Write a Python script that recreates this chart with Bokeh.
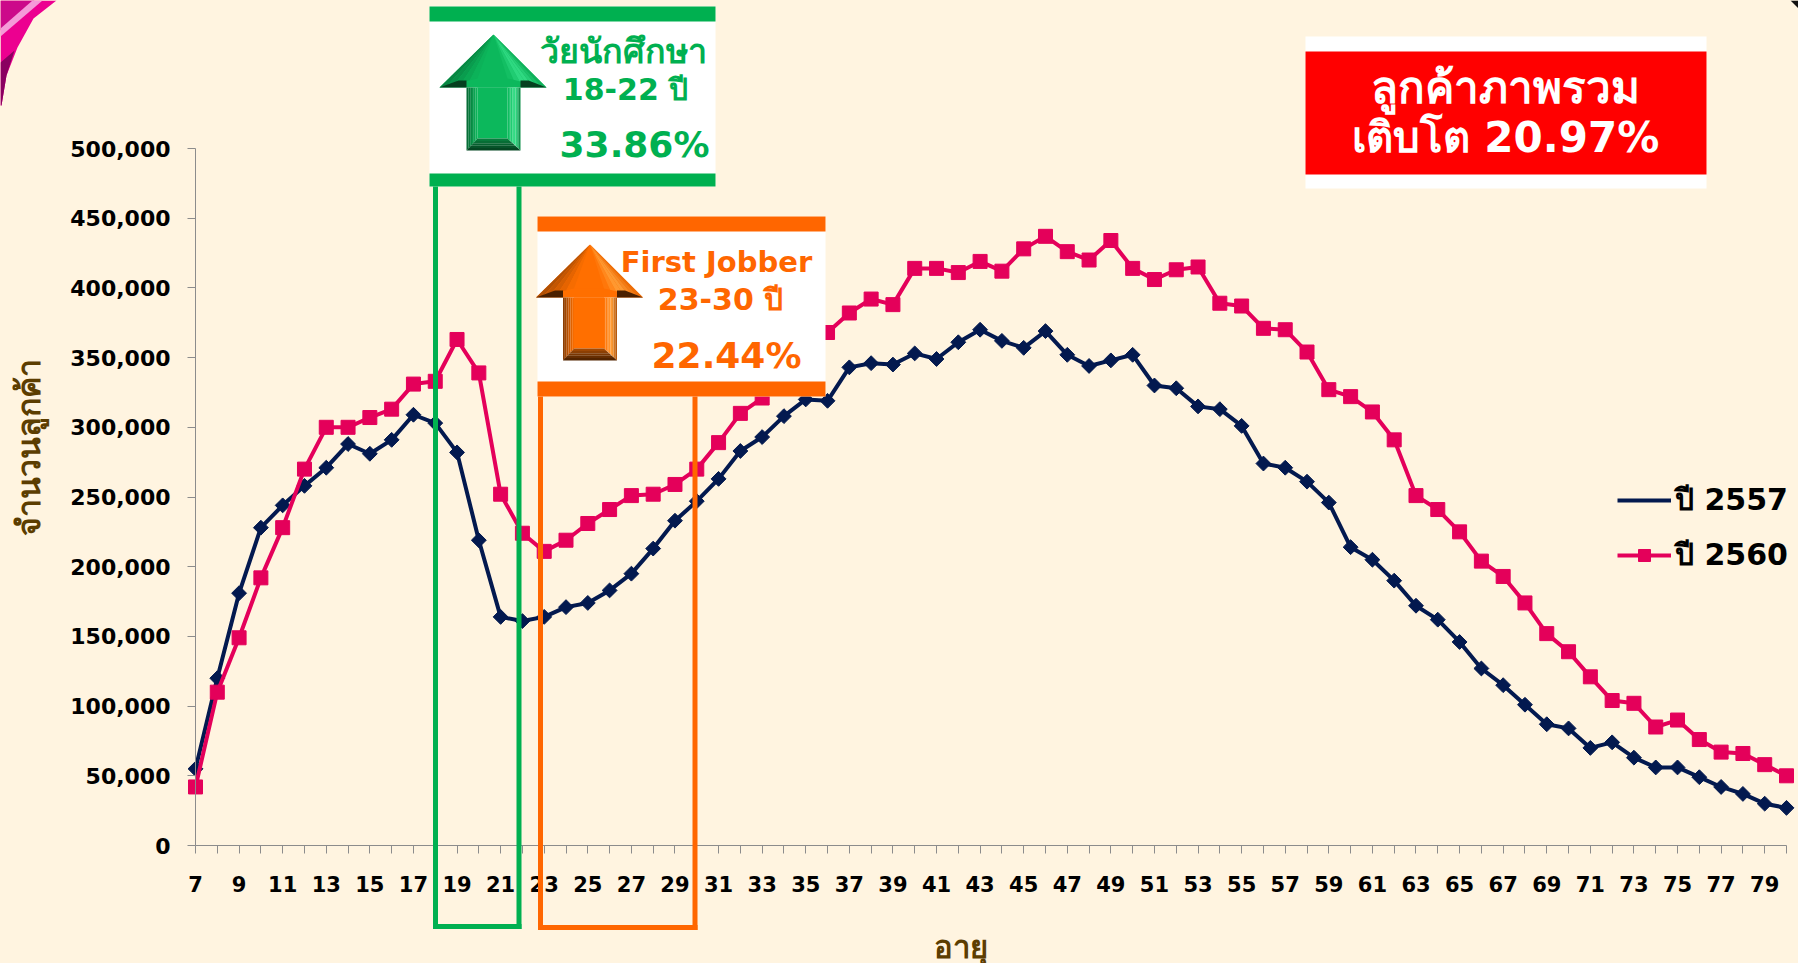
from math import pi
from bokeh.plotting import figure
from bokeh.embed import file_html
from bokeh.resources import INLINE
from bokeh.models import (Range1d, FixedTicker, Legend, LegendItem, Label, BoxAnnotation,
                          PolyAnnotation, NumeralTickFormatter)

ages = list(range(7, 81))
year_2557 = [55000,120000,181000,228000,244000,258000,271000,288000,281000,291000,309000,303000,282000,219000,
             164000,161000,164000,171000,174000,183000,195000,213000,233000,247000,263000,283000,293000,308000,
             320000,319000,343000,346000,345000,353000,349000,361000,370000,362000,357000,369000,352000,344000,
             348000,352000,330000,328000,315000,313000,301000,274000,271000,261000,246000,214000,205000,190000,
             172000,162000,146000,127000,115000,101000,87000,84000,70000,74000,63000,56000,56000,49000,42000,
             37000,30000,27000]
year_2560 = [42000,110000,149000,192000,228000,270000,300000,300000,307000,313000,331000,333000,363000,339000,
             252000,224000,211000,219000,231000,241000,251000,252000,259000,270000,289000,310000,321000,340000,
             355000,368000,382000,392000,388000,414000,414000,411000,419000,412000,428000,437000,426000,420000,
             434000,414000,406000,413000,415000,389000,387000,371000,370000,354000,327000,322000,311000,291000,
             251000,241000,225000,204000,193000,174000,152000,139000,121000,104000,102000,85000,90000,76000,67000,
             66000,58000,50000]
series_names = ["ปี 2557", "ปี 2560"]
y_ticks = [0,50000,100000,150000,200000,250000,300000,350000,400000,450000,500000]
x_label = "อายุ"
y_label = "จำนวนลูกค้า"

W, H = 1798, 963
L, R, T, B = 195, 1786, 148, 845
ux = (R - L) / 73
uy = (B - T) / 500000
BG = "#FFF4E0"; NAVY = "#03194F"; PINK = "#E4005A"; GREEN = "#00B050"; ORANGE = "#FF6600"; BROWN = "#5C3D00"
FONT = "DejaVu Sans"

p = figure(width=W, height=H,
           x_range=Range1d(7 - L/ux, 80 + (W-R)/ux), y_range=Range1d(-(H-B)/uy, 500000 + T/uy),
           output_backend="svg", toolbar_location=None,
           min_border_left=0, min_border_right=0, min_border_top=0, min_border_bottom=0,
           background_fill_color=BG, border_fill_color=BG, outline_line_color=None)
p.grid.visible = False

xa = p.xaxis[0]
xa.fixed_location = 0
xa.ticker = FixedTicker(ticks=ages)
xa.bounds = (7, 80)
xa.major_label_overrides = {a: (str(a) if a % 2 else "") for a in ages}
xa.major_label_text_font = FONT; xa.major_label_text_font_style = "bold"; xa.major_label_text_font_size = "21px"
xa.major_label_text_color = "#000000"; xa.major_label_standoff = 22
xa.major_tick_out = 8; xa.major_tick_in = 0; xa.minor_tick_line_color = None
xa.axis_line_color = "#8C8C8C"; xa.major_tick_line_color = "#8C8C8C"; xa.axis_line_width = 1

ya = p.yaxis[0]
ya.fixed_location = 7
ya.bounds = (0, 500000)
ya.ticker = FixedTicker(ticks=y_ticks)
ya.formatter = NumeralTickFormatter(format="0,0")
ya.major_label_text_font = FONT; ya.major_label_text_font_style = "bold"; ya.major_label_text_font_size = "22px"
ya.major_label_text_color = "#000000"; ya.major_label_standoff = 17
ya.major_tick_out = 8; ya.major_tick_in = 0; ya.minor_tick_line_color = None
ya.axis_line_color = "#8C8C8C"; ya.major_tick_line_color = "#8C8C8C"

l1 = p.line(ages, year_2557, line_color=NAVY, line_width=4)
m1 = p.scatter(ages, year_2557, marker="square", angle=pi/4, size=10.5, fill_color=NAVY, line_color=NAVY, line_width=1)
l2 = p.line(ages, year_2560, line_color=PINK, line_width=4)
m2 = p.scatter(ages, year_2560, marker="square", size=14, fill_color=PINK, line_color=PINK, line_width=1)
legend_diamond = p.scatter([], [], marker="diamond", size=19, fill_color=NAVY, line_color=NAVY, line_width=1)

leg = Legend(items=[LegendItem(label=series_names[0], renderers=[l1, legend_diamond]),
                    LegendItem(label=series_names[1], renderers=[l2, m2])],
             location=(1617, 385), background_fill_alpha=0, border_line_color=None,
             label_text_font=FONT, label_text_font_style="bold", label_text_font_size="30px",
             label_text_color="#000000", glyph_width=54, glyph_height=30, spacing=8, padding=0, margin=0,
             label_standoff=4)
p.add_layout(leg, "center")

def box(x0, y0, x1, y1, color):
    p.add_layout(BoxAnnotation(left=x0, right=x1, top=y0, bottom=y1,
                               left_units="canvas", right_units="canvas", top_units="canvas", bottom_units="canvas",
                               fill_color=color, fill_alpha=1, line_color=None))

def poly(pts, color):
    p.add_layout(PolyAnnotation(xs=[a for a, _ in pts], ys=[b for _, b in pts],
                                xs_units="canvas", ys_units="canvas",
                                fill_color=color, fill_alpha=1, line_color=None))

def text(s, cx, cy, size, color, angle=0):
    p.add_layout(Label(x=cx, y=cy, text=s, x_units="canvas", y_units="canvas", text_align="center",
                       text_baseline="middle", angle=angle, text_font=FONT, text_font_style="bold",
                       text_font_size=f"{size}px", text_color=color))

def mix(c0, c1, t):
    a = [int(c0[i:i+2], 16) for i in (1, 3, 5)]
    b = [int(c1[i:i+2], 16) for i in (1, 3, 5)]
    return "#%02X%02X%02X" % tuple(round(u + (v-u)*t) for u, v in zip(a, b))

def lerp(q0, q1, t):
    return (q0[0] + (q1[0]-q0[0])*t, q0[1] + (q1[1]-q0[1])*t)

def shaded(a0, a1, b0, b1, c0, c1, n=5):
    """Quad a0-a1 / b0-b1 stepped from colour c0 (a side) to c1 (b side)."""
    for i in range(n):
        t0, t1 = i/n, (i+1)/n
        poly([lerp(a0, b0, t0), lerp(a0, b0, t1), lerp(a1, b1, t1), lerp(a1, b1, t0)], mix(c0, c1, (i+.5)/n))

# axis titles
text(x_label, 960, 946, 31, BROWN)
text(y_label, 28, 447, 32, BROWN, angle=pi/2)

# corner swoosh
poly([(0,0),(56,0),(33,18),(17,47),(6,75),(1,105),(0,105)], "#EC0090")
poly([(0,0),(34,0),(0,30)], "#CC0A8A")
poly([(0,36),(42,0),(32,0),(0,28)], "#F59AD8")
poly([(0,62),(14,50),(6,75),(1,105),(0,105)], "#8A0060")
poly([(1790,0),(1798,0),(1798,8)], "#111111")

# range outlines
for x0, x1, top, bot, col in [(435, 518.5, 180, 926, GREEN), (540, 694.5, 390, 927, ORANGE)]:
    box(x0-2.5, top, x0+2.5, bot+2.5, col)
    box(x1-2.5, top, x1+2.5, bot+2.5, col)
    box(x0-2.5, bot-2.5, x1+2.5, bot+2.5, col)

def arrow(dx, dy, edge, base, light, shadow):
    P = lambda x, y: (x+dx, y+dy)
    tip, hl, hr = P(493, 34), P(439, 87), P(546, 87)
    il, ir = P(477, 78), P(507, 78)
    sl, sr, bl, br = P(466, 87), P(520, 87), P(466, 150), P(520, 150)
    jl, jr, kl, kr = P(477, 87), P(507, 87), P(477, 138), P(507, 138)
    poly([tip, hl, hr], base)
    poly([il, ir, jr, jl], base)
    # head facets
    shaded(tip, hl, tip, il, edge, base, 5)
    shaded(tip, ir, tip, P(525, 82), base, light, 3)
    shaded(tip, P(525, 82), tip, hr, light, mix(base, edge, .25), 4)
    # head undersides
    poly([hl, sl, P(466, 80), P(458, 80)], shadow)
    poly([hr, sr, P(520, 80), P(528, 80)], shadow)
    # shaft
    poly([jl, jr, kr, kl], base)
    shaded(sl, bl, jl, kl, mix(edge, shadow, .4), base, 6)
    shaded(jr, kr, P(515, 87), P(515, 145), base, light, 5)
    shaded(P(515, 87), P(515, 145), sr, br, light, edge, 3)
    # lower bevel
    shaded(kl, kr, bl, br, edge, shadow, 5)

# green callout
box(429, 6, 715, 186, "#FFFFFF"); box(429, 6, 715, 21, GREEN); box(429, 173, 715, 186, GREEN)
arrow(0, 0, "#08803F", "#0CB85C", "#35E088", "#05401F")
text("วัยนักศึกษา", 623, 50, 34, GREEN)
text("18-22 ปี", 625, 89, 30, GREEN)
text("33.86%", 634, 144, 36, GREEN)

# orange callout
box(537, 216, 825, 396, "#FFFFFF"); box(537, 216, 825, 231, ORANGE); box(537, 381, 825, 396, ORANGE)
arrow(96.5, 210, "#A84C04", "#FF6F00", "#FFA03A", "#4A2000")
text("First Jobber", 716, 261, 29, ORANGE)
text("23-30 ปี", 720, 299, 30, ORANGE)
text("22.44%", 726, 355, 36, ORANGE)

# red callout
box(1305, 36, 1706, 188, "#FFFFFF"); box(1305, 51, 1706, 174, "#FF0000")
text("ลูกค้าภาพรวม", 1505, 87, 44, "#FFFFFF")
text("เติบโต 20.97%", 1505, 137, 42, "#FFFFFF")

html = file_html(p, INLINE)
html = html.replace("</head>", f"<style>html,body{{margin:0;padding:0;background:{BG};overflow:hidden}}</style></head>")
open("out.html", "w").write(html)
